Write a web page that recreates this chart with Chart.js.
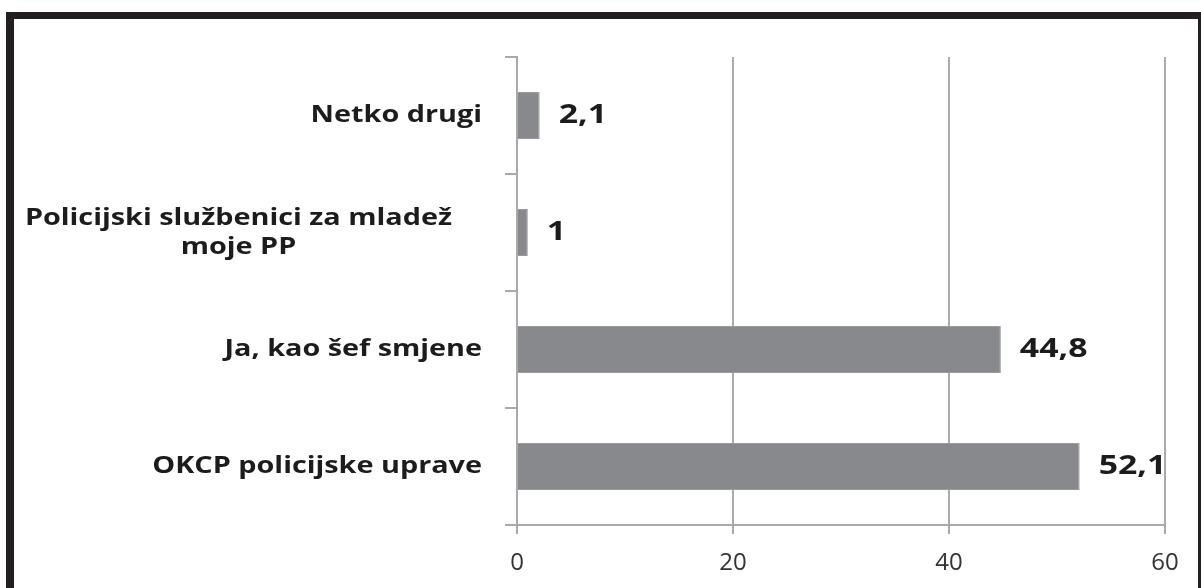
<!DOCTYPE html>
<html>
<head>
<meta charset="utf-8">
<script src="https://cdn.jsdelivr.net/npm/chart.js@4.4.0/dist/chart.umd.min.js"></script>
<style>
  html, body { margin: 0; padding: 0; background: #fff; overflow: hidden; }
  #wrap { position: relative; width: 1201px; height: 588px; }
  #frame {
    position: absolute; left: 6px; top: 12px; width: 1200px; height: 620px;
    border: 8px solid #231f20; border-top-width: 7px; box-sizing: border-box;
    pointer-events: none;
  }
  canvas { position: absolute; left: 0; top: 0; }
</style>
</head>
<body>
<div id="wrap">
  <canvas id="chart" width="1201" height="588"></canvas>
  <div id="frame"></div>
</div>
<script>
var categories = [
    'Netko drugi',
    ['Policijski službenici za mladež', 'moje PP'],
    'Ja, kao šef smjene',
    'OKCP policijske uprave'
];
var values = [2.1, 1, 44.8, 52.1];
var xTicks = [0, 20, 40, 60];

var gridColor = '#a9a9a9';
var labelFont = 'bold 24px "Open Sans"';
var valueFont = 'bold 26px "Open Sans"';

// the source picture is a bit stretched sideways, so text is widened to match
function wideText(ctx, text, x, y, sx, align) {
    var w = ctx.measureText(text).width * sx;
    var left = align === 'center' ? x - w / 2 : (align === 'right' ? x - w : x);
    ctx.save();
    ctx.translate(left, y);
    ctx.scale(sx, 1);
    ctx.textAlign = 'left';
    ctx.fillText(text, 0, 0);
    ctx.restore();
    return w;
}

// draws the wrapped category names and the value labels next to the bars
var textPlugin = {
    id: 'texts',
    afterDraw: function (chart) {
        var ctx = chart.ctx;
        var yScale = chart.scales.y;
        var right = chart.chartArea.left - 35;
        var sx = 1.2;
        ctx.save();
        ctx.fillStyle = '#1c1c1c';
        ctx.font = labelFont;
        ctx.textBaseline = 'middle';
        categories.forEach(function (cat, i) {
            var y = yScale.getPixelForValue(i);
            var lines = Array.isArray(cat) ? cat : [cat];
            var lh = 29;
            var widest = 0;
            lines.forEach(function (l) { widest = Math.max(widest, ctx.measureText(l).width * sx); });
            var cx = right - widest / 2;
            if (lines.length > 1) cx -= 30;
            lines.forEach(function (l, j) {
                wideText(ctx, l, cx, y + (j - (lines.length - 1) / 2) * lh, sx, 'center');
            });
        });

        ctx.font = valueFont;
        chart.getDatasetMeta(0).data.forEach(function (bar, i) {
            wideText(ctx, String(values[i]).replace('.', ','), bar.x + 19, bar.y, 1.3, 'left');
        });
        ctx.restore();
    }
};

new Chart(document.getElementById('chart').getContext('2d'), {
    type: 'bar',
    data: {
        labels: categories,
        datasets: [{
            data: values,
            backgroundColor: '#88898d',
            borderColor: '#9a9b9f',
            borderWidth: 1,
            categoryPercentage: 1,
            barPercentage: 0.4
        }]
    },
    options: {
        indexAxis: 'y',
        responsive: false,
        animation: false,
        devicePixelRatio: 1,
        layout: { padding: { top: 57, right: 36, left: 0, bottom: 0 } },
        plugins: { legend: { display: false }, tooltip: { enabled: false } },
        scales: {
            x: {
                min: 0,
                max: 60,
                afterBuildTicks: function (axis) {
                    axis.ticks = xTicks.map(function (v) { return { value: v }; });
                },
                afterFit: function (axis) { axis.height = 63; },
                grid: { color: gridColor, lineWidth: 2, tickLength: 9 },
                border: { color: gridColor, width: 2 },
                ticks: {
                    color: '#333333',
                    padding: 15,
                    font: { family: 'Open Sans', size: 24 }
                }
            },
            y: {
                afterFit: function (axis) { axis.width = 517; },
                grid: { drawOnChartArea: false, color: gridColor, lineWidth: 2, tickLength: 12 },
                border: { color: gridColor, width: 2 },
                ticks: { display: false }
            }
        }
    },
    plugins: [textPlugin]
});
</script>
</body>
</html>
